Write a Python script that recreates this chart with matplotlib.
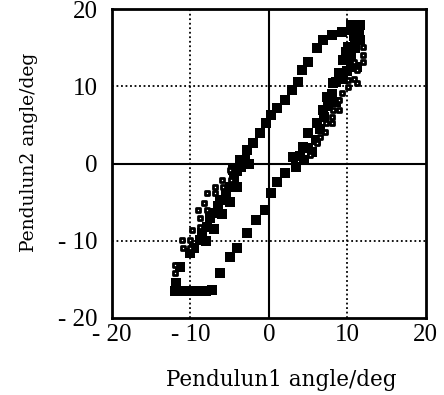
import numpy as np
import matplotlib.pyplot as plt

# filled squares (black)
filled_x = [-12, -11, -10, -9, -8, -7.3, -11.8, -11.3,
            -10.1, -8.8, -7.9, -7.1, -6.2, -5.0, -4.6, -3.7, -2.8, -2.0, -1.1, -0.3,
            0.3, 1.1, 2.0, 2.9, 3.7, 4.2, 5.0, 6.1, 6.9, 8.0, 9.3, 10.7, 11.6,
            -9.5, -8.5, -8.0, -7.5, -7.0, -6.5, -6.0, -5.5, -5.0, -4.5, -4.0, -4.0, -3.5, -3.0, -2.5,
            -6.2, -5.0, -4.1, -2.8, -1.6, -0.5, 0.3, 1.0, 2.0, 3.1, 4.3, 5.0, 6.1, 6.9, 7.4,
            8.2, 9.0, 9.5, 10.1, 10.6,
            3.5, 4.0, 4.5, 5.0, 5.5, 6.0, 6.5, 7.0, 7.5, 8.0, 8.5, 8.5, 9.5, 10.0,
            10.5, 10.5, 11.0, 11.0, 11.5, 11.5, 10.5, 9.8, 11.2, 11.6, 10.8]
filled_y = [-16.5, -16.5, -16.5, -16.5, -16.5, -16.4, -15.5, -13.4,
            -11.6, -9.9, -8.2, -6.4, -4.7, -3.0, -0.8, 0.5, 1.7, 2.6, 3.9, 5.2,
            6.3, 7.2, 8.2, 9.5, 10.6, 12.1, 13.2, 15.0, 16.0, 16.6, 17.0, 17.9, 17.9,
            -11.0, -9.0, -10.0, -7.0, -8.5, -5.5, -6.5, -4.0, -5.0, -2.0, -3.0, -1.0, -0.5, 0.5, 0.0,
            -14.2, -12.1, -11.0, -9.0, -7.3, -6.0, -3.8, -2.4, -1.2, 0.8, 2.1, 3.9, 5.2, 6.9, 8.6,
            10.4, 11.7, 13.4, 15.1, 17.3,
            -0.5, 1.0, 0.5, 2.0, 1.5, 3.0, 4.5, 6.0, 7.5, 9.0, 8.0, 10.5, 11.0, 12.0,
            13.0, 14.0, 15.0, 16.0, 17.0, 18.0, 18.0, 14.5, 12.5, 16.0, 16.5]

# open squares
open_x = [-12.0, -12.0, -11.1, -10.9, -10.1, -10.1, -9.8, -9.0, -8.8, -8.8, -8.2, -7.9, -7.9,
          -6.9, -6.9, -6.0, -5.9, -5.0, -4.8,
          5.2, 6.1, 6.5, 7.1, 7.3, 8.0, 8.0, 8.2, 9.0, 9.0, 9.3, 10.1, 10.1, 10.9, 11.2,
          11.2, 10.9, 12.0, 12.0, 12.0]
open_y = [-13.1, -14.2, -9.9, -11.0, -9.9, -11.0, -8.6, -6.0, -7.1, -8.2, -5.1, -3.8, -6.0,
          -3.0, -3.8, -2.1, -3.0, -0.8, -2.1,
          1.1, 2.6, 3.5, 4.1, 5.2, 5.2, 6.0, 6.9, 6.9, 8.2, 9.1, 9.9, 10.8, 11.0, 12.1,
          10.4, 13.2, 13.2, 14.1, 15.1]

ticks = [-20, -10, 0, 10, 20]
tick_labels = ["- 20", "- 10", "0", "10", "20"]

plt.rcParams['font.family'] = ['Liberation Serif', 'DejaVu Serif']

fig = plt.figure(figsize=(4.44, 3.95), dpi=100)
ax = fig.add_axes([0.252, 0.195, 0.707, 0.782])

ax.axhline(0, color='black', lw=1.5, zorder=1)
ax.axvline(0, color='black', lw=1.5, zorder=1)
for v in [-10, 10]:
    ax.axhline(v, color='black', lw=1.3, ls=(0, (1, 1.5)), zorder=1)
    ax.axvline(v, color='black', lw=1.3, ls=(0, (1, 1.5)), zorder=1)

ax.scatter(filled_x, filled_y, marker='s', s=42, c='black', linewidths=0, zorder=2)
ax.scatter(open_x, open_y, marker='s', s=9, facecolors='white', edgecolors='black',
           linewidths=2.0, zorder=3)

ax.set_xlim(-20, 20)
ax.set_ylim(-20, 20)
ax.set_xticks(ticks)
ax.set_xticklabels(tick_labels)
ax.set_yticks(ticks)
ax.set_yticklabels(tick_labels)
ax.tick_params(length=0, labelsize=18)
ax.tick_params(axis='y', pad=10)
ax.tick_params(axis='x', pad=4)
for s in ax.spines.values():
    s.set_linewidth(2)

ax.set_xlabel("Pendulun1 angle/deg", family='DejaVu Serif', fontsize=15.5)
ax.set_ylabel("Pendulun2 angle/deg", family='DejaVu Serif', fontsize=13.5)
ax.xaxis.set_label_coords(0.54, -0.165)
ax.yaxis.set_label_coords(-0.235, 0.535)

fig.savefig("out.png", dpi=100)
